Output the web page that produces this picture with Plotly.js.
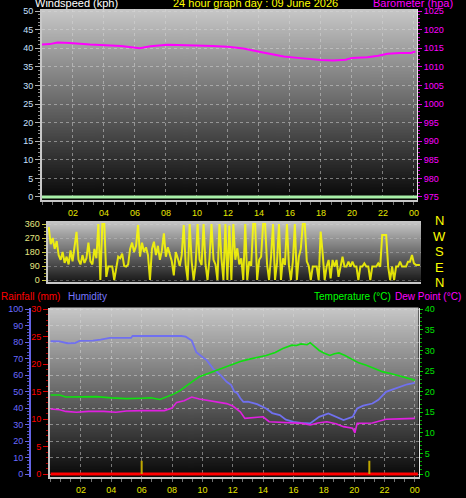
<!DOCTYPE html>
<html>
<head>
<meta charset="utf-8">
<script src="https://cdn.plot.ly/plotly-3.0.1.min.js"></script>
<style>
  html, body { margin: 0; padding: 0; background: #000; }
  #chart { width: 466px; height: 498px; }
</style>
</head>
<body>
<div id="chart"></div>
<script>
// ---- data ----
const hourTickVals = [2, 4, 6, 8, 10, 12, 14, 16, 18, 20, 22, 24];
const hourTickText = ['02', '04', '06', '08', '10', '12', '14', '16', '18', '20', '22', '00'];

// windspeed (kph) - flat at zero all day
const windHours = [0, 24.2];
const windSpeed = [0, 0];

// barometer (hpa)
const baroHours = [0, 0.5, 1.0, 1.8, 3.1, 4.2, 5.1, 5.9, 6.3, 7.0, 8.1, 9.3, 10.2, 11.0, 12.0, 13.0, 14.1, 14.9, 15.6, 16.5, 17.3, 18.0, 18.8, 19.6, 20.0, 21.0, 21.7, 22.3, 23.1, 23.8, 24.1];
const baroValues = [1016.0, 1016.1, 1016.5, 1016.4, 1016.0, 1015.8, 1015.6, 1015.2, 1015.0, 1015.5, 1015.9, 1015.8, 1015.8, 1015.6, 1015.4, 1014.9, 1014.0, 1013.4, 1012.8, 1012.4, 1012.0, 1011.8, 1011.7, 1011.9, 1012.4, 1012.6, 1013.0, 1013.5, 1013.7, 1013.7, 1014.1];

// wind direction (degrees), samples spread evenly over the day
const dirValues = [
  340, 230, 270, 200, 250, 160, 130, 180, 110, 150, 100, 190, 120, 200, 310, 130,
  100, 160, 110, 140, 240, 120, 100, 200, 140, 360, 0, 360, 360, 20, 86, 86,
  86, 0, 86, 150, 140, 170, 90, 86, 100, 200, 240, 180, 220, 354, 150, 240,
  180, 210, 160, 0, 200, 246, 160, 220, 130, 190, 300, 150, 210, 170, 120, 30,
  180, 140, 90, 160, 354, 96, 0, 360, 120, 0, 96, 360, 130, 96, 360, 100,
  0, 140, 360, 130, 100, 0, 360, 140, 0, 360, 0, 350, 0, 360, 130, 204,
  100, 140, 0, 360, 0, 120, 90, 360, 360, 0, 130, 150, 360, 360, 100, 0,
  150, 360, 0, 110, 360, 0, 140, 96, 360, 96, 0, 120, 360, 0, 150, 200,
  360, 360, 120, 90, 0, 86, 86, 86, 0, 311, 171, 0, 86, 129, 10, 129,
  86, 129, 20, 86, 150, 86, 86, 118, 86, 118, 86, 86, 0, 86, 86, 107,
  86, 86, 0, 86, 86, 86, 107, 86, 289, 289, 289, 86, 0, 86, 0, 86,
  86, 118, 86, 86, 86, 118, 118, 161, 107, 96, 96, 96
];
const dirHours = dirValues.map((v, i) => i * 24 / (dirValues.length - 1));

// humidity (%)
const humHours = [0, 0.6, 1.1, 1.6, 1.9, 2.8, 3.3, 3.9, 5.3, 5.4, 8.6, 8.9, 9.3, 9.6, 10.0, 10.3, 10.7, 11.2, 11.6, 11.9, 12.1, 12.3, 12.5, 12.7, 13.0, 13.6, 14.2, 14.6, 15.1, 15.5, 16.0, 16.5, 17.1, 17.4, 17.7, 18.3, 18.8, 19.3, 19.9, 20.2, 20.6, 21.2, 21.6, 22.1, 22.6, 23.0, 23.5, 24.0];
const humValues = [80.6, 80.5, 79.4, 79.5, 80.8, 81.0, 81.6, 82.6, 82.6, 83.8, 83.8, 83.4, 81.0, 74.0, 71.0, 69.0, 64.0, 60.0, 56.0, 54.0, 50.0, 49.0, 46.0, 43.8, 44.0, 42.4, 39.8, 37.0, 35.8, 33.0, 31.7, 31.0, 30.7, 32.5, 34.7, 36.8, 34.5, 32.7, 34.7, 39.8, 41.5, 42.8, 45.0, 49.9, 51.5, 52.9, 54.5, 55.3];

// temperature (C)
const tempHours = [0, 0.6, 1.0, 3.0, 4.0, 5.0, 6.0, 6.6, 7.2, 7.6, 8.1, 8.5, 9.0, 9.4, 9.8, 10.4, 11.0, 11.5, 12.0, 12.5, 13.1, 13.7, 14.2, 14.8, 15.3, 15.9, 16.2, 16.5, 16.9, 17.1, 17.4, 17.7, 18.0, 18.4, 18.7, 19.0, 19.4, 19.9, 20.3, 20.8, 21.3, 21.9, 22.4, 23.0, 23.5, 24.0];
const tempValues = [19.2, 19.2, 18.7, 18.8, 18.5, 18.3, 18.4, 18.5, 18.1, 18.6, 19.4, 20.2, 21.6, 22.6, 23.6, 24.4, 25.2, 26.0, 26.7, 27.3, 27.9, 28.3, 28.8, 29.5, 30.5, 31.3, 31.2, 31.6, 31.4, 31.9, 31.0, 30.0, 29.4, 28.8, 29.2, 29.4, 28.8, 27.9, 27.0, 26.4, 25.6, 24.8, 24.4, 23.8, 23.2, 22.8];

// dew point (C)
const dewHours = [0, 0.6, 1.0, 1.7, 2.5, 3.5, 4.3, 5.0, 6.0, 7.0, 7.5, 8.0, 8.3, 8.8, 9.3, 9.8, 10.3, 11.0, 11.6, 12.0, 12.3, 12.5, 12.8, 13.4, 14.0, 14.4, 15.2, 16.0, 16.6, 17.1, 17.6, 18.2, 18.8, 19.3, 19.9, 20.05, 20.2, 21.2, 22.1, 23.0, 24.0];
const dewValues = [15.8, 15.6, 15.2, 15.0, 15.2, 15.2, 15.0, 15.3, 15.4, 15.3, 15.4, 16.0, 17.4, 17.8, 18.7, 18.2, 17.9, 17.6, 17.1, 16.5, 15.6, 15.1, 13.5, 13.7, 13.9, 12.7, 12.5, 12.3, 12.3, 11.9, 12.4, 12.7, 12.2, 11.5, 11.1, 10.0, 12.3, 12.4, 13.3, 13.4, 13.5];

// rainfall (mm)
const rainHours = [0, 24.2];
const rainValues = [0, 0];

// yellow day markers on the rain axis
const markerHours = [6.0, 21.0];
const markerTop = 2.4;

// ---- page geometry (pixels) ----
const W = 466, H = 498;
const px = v => v / W;
const py = v => 1 - v / H;
const FONT = 'Liberation Sans, Arial, sans-serif';

function gradient(top, bottom) {
    const c = document.createElement('canvas');
    c.width = 4; c.height = 256;
    const ctx = c.getContext('2d');
    const g = ctx.createLinearGradient(0, 0, 0, 256);
    g.addColorStop(0, top); g.addColorStop(1, bottom);
    ctx.fillStyle = g; ctx.fillRect(0, 0, 4, 256);
    return c.toDataURL();
}
function panelImage(src, x0, y0, x1, y1) {
    return { source: src, xref: 'paper', yref: 'paper', x: px(x0), y: py(y0),
        sizex: px(x1) - px(x0), sizey: (y1 - y0) / H, sizing: 'stretch',
        xanchor: 'left', yanchor: 'top', layer: 'below' };
}
function label(text, x, y, color, size, anchor) {
    return { text: text, xref: 'paper', yref: 'paper', x: px(x), y: py(y),
        xanchor: anchor || 'left', yanchor: 'middle', showarrow: false,
        font: { family: FONT, size: size, color: color }, borderpad: 0 };
}

// marker segments
const mx = [], my = [];
markerHours.forEach(h => { mx.push(h, h, null); my.push(0, markerTop, null); });

const traces = [
    { x: windHours, y: windSpeed, xaxis: 'x', yaxis: 'y', mode: 'lines',
      line: { color: '#a8f0a8', width: 3 }, hoverinfo: 'skip' },
    { x: baroHours, y: baroValues, xaxis: 'x', yaxis: 'y2', mode: 'lines',
      line: { color: '#ff00ff', width: 2 } },
    { x: dirHours, y: dirValues, xaxis: 'x2', yaxis: 'y3', mode: 'lines',
      line: { color: 'rgba(255,255,0,0.85)', width: 2 } },
    { x: rainHours, y: rainValues, xaxis: 'x3', yaxis: 'y5', mode: 'lines',
      line: { color: '#ff0000', width: 3 } },
    { x: mx, y: my, xaxis: 'x3', yaxis: 'y5', mode: 'lines',
      line: { color: '#c0a800', width: 2 } },
    { x: tempHours, y: tempValues, xaxis: 'x3', yaxis: 'y6', mode: 'lines',
      line: { color: '#10e010', width: 1.6 } },
    { x: humHours, y: humValues, xaxis: 'x3', yaxis: 'y4', mode: 'lines',
      line: { color: '#7070f0', width: 1.8 } },
    { x: dewHours, y: dewValues, xaxis: 'x3', yaxis: 'y6', mode: 'lines',
      line: { color: '#e020e0', width: 1.6 } }
];

const grid = { showgrid: true, gridcolor: 'rgba(215,215,215,0.5)', griddash: 'dot', gridwidth: 1 };
const hourAxis = (domain, range, anchor, labels) => Object.assign({
    domain: domain, range: range, anchor: anchor, fixedrange: true, zeroline: false,
    tickmode: 'array', tickvals: hourTickVals, ticktext: labels ? hourTickText : hourTickVals.map(() => ''),
    ticks: labels ? 'outside' : '', ticklen: 3, tickcolor: '#707070',
    tickfont: { family: FONT, size: 9, color: '#e6e600' },
    minor: labels ? { tickmode: 'linear', tick0: 0, dtick: 2 / 3, ticks: 'outside', ticklen: 3, tickcolor: '#707070' } : {},
    showline: true, linecolor: '#c8c8c8', linewidth: 2
}, labels ? grid : { showgrid: false });

const layout = {
    width: W, height: H,
    margin: { l: 0, r: 0, t: 0, b: 0 },
    paper_bgcolor: '#000', plot_bgcolor: 'rgba(0,0,0,0)',
    showlegend: false,
    font: { family: FONT },
    // top panel: windspeed + barometer
    xaxis: hourAxis([px(42), px(417)], [0, 24.2], 'y', true),
    yaxis: Object.assign({
        domain: [py(200), py(9)], range: [-0.81, 50.54], fixedrange: true, zeroline: false,
        tickmode: 'linear', tick0: 0, dtick: 5, ticks: 'outside', ticklen: 5, tickcolor: '#b0b0b0',
        minor: { tickmode: 'linear', tick0: 0, dtick: 1, ticks: 'outside', ticklen: 2, tickcolor: '#909090' },
        tickfont: { family: FONT, size: 9, color: '#c8e0ff' },
        showline: true, linecolor: '#c8c8c8', linewidth: 2
    }, grid),
    yaxis2: {
        overlaying: 'y', side: 'right', anchor: 'x', range: [974.19, 1025.54], fixedrange: true,
        showgrid: false, zeroline: false,
        tickmode: 'linear', tick0: 975, dtick: 5, ticks: 'outside', ticklen: 4, tickcolor: '#e000e0',
        minor: { tickmode: 'linear', tick0: 975, dtick: 1, ticks: 'outside', ticklen: 2, tickcolor: '#c000c0' },
        tickfont: { family: FONT, size: 9, color: '#ff00ff' },
        showline: true, linecolor: '#e8e8e8', linewidth: 1
    },
    // middle panel: wind direction
    xaxis2: hourAxis([px(47.5), px(421)], [-0.08, 24.07], 'y3', false),
    yaxis3: {
        domain: [py(282), py(221)], range: [-12.86, 379.3], anchor: 'x2', fixedrange: true, zeroline: false,
        tickmode: 'linear', tick0: 0, dtick: 90, ticks: 'outside', ticklen: 4, tickcolor: '#c8c840',
        minor: { tickmode: 'linear', tick0: 0, dtick: 22.5, ticks: 'outside', ticklen: 2, tickcolor: '#a0a030' },
        tickfont: { family: FONT, size: 9, color: '#e6e680' },
        showgrid: true, gridcolor: 'rgba(215,215,215,0.35)', griddash: 'dot',
        showline: true, linecolor: '#c8c8c8', linewidth: 2
    },
    // bottom panel: humidity, rainfall, temperature, dew point
    xaxis3: hourAxis([px(50), px(418.5)], [-0.04, 24.24], 'y4', true),
    yaxis4: Object.assign({
        domain: [py(477), py(307.5)], range: [-1.82, 101.1], anchor: 'free', position: px(30),
        fixedrange: true, zeroline: false,
        tickmode: 'linear', tick0: 0, dtick: 10, ticks: 'outside', ticklen: 4, tickcolor: '#6464e6',
        minor: { tickmode: 'linear', tick0: 0, dtick: 2, ticks: 'outside', ticklen: 2, tickcolor: '#5050c0' },
        tickfont: { family: FONT, size: 9, color: '#6a6aff' },
        showline: true, linecolor: '#6464e6', linewidth: 2
    }, grid),
    yaxis5: {
        overlaying: 'y4', anchor: 'x3', side: 'left', range: [-0.546, 30.33], fixedrange: true,
        showgrid: false, zeroline: false,
        tickmode: 'linear', tick0: 0, dtick: 5, ticks: 'outside', ticklen: 5, tickcolor: '#e00000',
        minor: { tickmode: 'linear', tick0: 0, dtick: 1, ticks: 'outside', ticklen: 2, tickcolor: '#b00000' },
        tickfont: { family: FONT, size: 9, color: '#ff0000' },
        showline: true, linecolor: '#c8c8c8', linewidth: 2
    },
    yaxis6: {
        overlaying: 'y4', anchor: 'x3', side: 'right', range: [-0.728, 40.44], fixedrange: true,
        showgrid: false, zeroline: false,
        tickmode: 'linear', tick0: 0, dtick: 5, ticks: 'outside', ticklen: 3, tickcolor: '#00d000',
        minor: { tickmode: 'linear', tick0: 0, dtick: 1, ticks: 'outside', ticklen: 2, tickcolor: '#00a000' },
        tickfont: { family: FONT, size: 9, color: '#00e000' },
        showline: true, linecolor: '#e8e8e8', linewidth: 1.5
    },
    images: [
        panelImage(gradient('#c8c8c8', '#060606'), 42, 9, 417, 200),
        panelImage(gradient('#c8c8c8', '#181818'), 47.5, 221, 421, 282),
        panelImage(gradient('#c8c8c8', '#080808'), 50, 307.5, 418.5, 477)
    ],
    annotations: [
        label('Windspeed (kph)', 34, 3.5, '#ffffff', 11),
        label('24 hour graph day : 09 June 2026', 172, 3.5, '#ffff00', 11),
        label('Barometer (hpa)', 372, 3.5, '#ff00ff', 11),
        label('N', 439, 221, '#ffff00', 13, 'center'),
        label('W', 439, 237, '#ffff00', 13, 'center'),
        label('S', 439, 252, '#ffff00', 13, 'center'),
        label('E', 439, 267, '#ffff00', 13, 'center'),
        label('N', 439, 282, '#ffff00', 13, 'center'),
        label('Rainfall (mm)', 0, 296, '#ff0000', 10),
        label('Humidity', 67, 296, '#7878ff', 10),
        label('Temperature (°C)', 313, 296, '#00ff00', 10),
        label('Dew Point (°C)', 394, 296, '#ff00ff', 10)
    ]
};

Plotly.newPlot('chart', traces, layout, { staticPlot: true, displayModeBar: false });
</script>
</body>
</html>
